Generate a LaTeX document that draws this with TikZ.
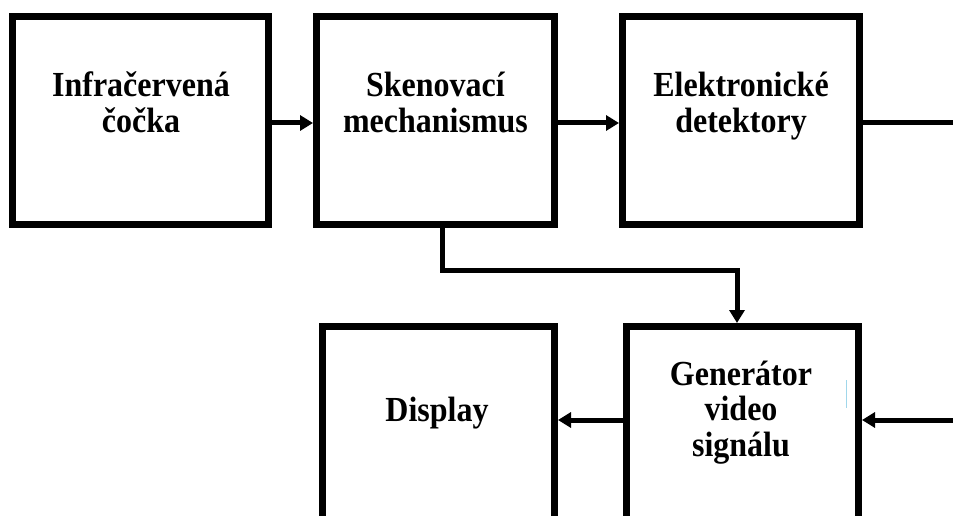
\documentclass[tikz,border=0pt]{standalone}
\usepackage{fontspec}
\setmainfont{Liberation Serif}
\usetikzlibrary{arrows.meta}
\newcommand{\boxtext}[1]{\scalebox{1}[1.1]{\begin{tabular}[t]{@{}c@{}}#1\end{tabular}}}
\begin{document}
\begin{tikzpicture}[x=1pt,y=-1pt,
  box/.style={draw, rectangle, line width=7pt, inner sep=0pt},
  lbl/.style={anchor=base, inner sep=0pt, font=\fontsize{32}{32.5}\selectfont\bfseries},
  conn/.style={line width=5pt, line join=miter},
  arr/.style={conn, -{Triangle[length=13pt,width=15pt]}}]
\useasboundingbox (0,0) rectangle (953,516);
\clip (0,0) rectangle (953,516);
% boxes
\node[box, minimum width=256pt, minimum height=208pt] (b1) at (140.5,120.5) {};
\node[box, minimum width=238pt, minimum height=208pt] (b2) at (435.5,120.5) {};
\node[box, minimum width=237pt, minimum height=208pt] (b3) at (741,120.5) {};
\node[box, minimum width=232pt, minimum height=230pt] (disp) at (438.5,441.5) {};
\node[box, minimum width=232pt, minimum height=230pt] (gen) at (742.5,441.5) {};
% labels
\node[lbl] (t1) at (141,96.5) {\boxtext{Infračervená\\čočka}};
\node[lbl] (t2) at (435.5,96.5) {\boxtext{Skenovací\\mechanismus}};
\node[lbl] (t3) at (741,96.5) {\boxtext{Elektronické\\detektory}};
\node[lbl] (t4) at (437,421) {\boxtext{Display}};
\node[lbl] (t5) at (741,385) {\boxtext{Generátor\\video\\signálu}};
% connectors
\coordinate (r1) at (953,123);
\coordinate (r2) at (953,420);
\coordinate (m) at (737,270);
\draw[arr] ([yshift=-2.5pt]b1.east) -- ([yshift=-2.5pt]b2.west);
\draw[arr] ([yshift=-2.5pt]b2.east) -- ([yshift=-2.5pt]b3.west);
\draw[conn] ([yshift=-2.5pt]b3.east) -- (r1);
\draw[arr] ([xshift=6.5pt]b2.south) |- (m) -- ([xshift=-5.5pt]gen.north);
\draw[arr] (r2) -- (gen.east |- r2);
\draw[arr] (gen.west |- r2) -- (disp.east |- r2);
% faint artifact line
\coordinate (a1) at (846,380);
\coordinate (a2) at (846,408);
\draw[line width=1pt, color={rgb,255:red,160;green,215;blue,235}] (a1) -- (a2);
\end{tikzpicture}
\end{document}
